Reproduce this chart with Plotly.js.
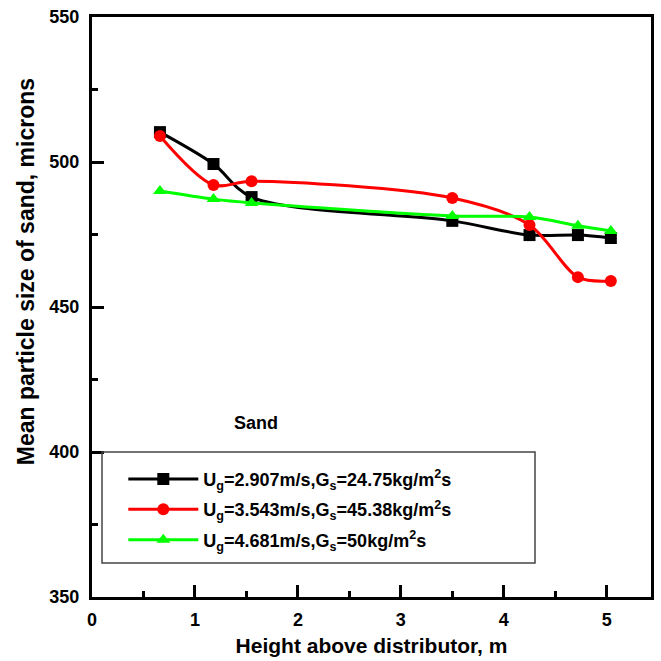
<!DOCTYPE html>
<html>
<head>
<meta charset="utf-8">
<script src="https://cdn.plot.ly/plotly-3.0.1.min.js"></script>
<style>html,body{margin:0;padding:0;background:#fff;}#chart{width:661px;height:661px;}</style>
</head>
<body>
<div id="chart"></div>
<script>
// Data
const heights = [0.66, 1.18, 1.55, 3.50, 4.25, 4.72, 5.04];
const sizeUg2907 = [510.3, 499.3, 487.9, 479.7, 474.8, 474.8, 473.8];
const sizeUg3543 = [509.0, 492.1, 493.4, 487.6, 478.3, 460.3, 459.0];
const sizeUg4681 = [490.0, 487.2, 485.9, 481.4, 481.0, 478.0, 476.2];
const seriesNames = [
  'U<sub>g</sub>=2.907m/s,G<sub>s</sub>=24.75kg/m<sup>2</sup>s',
  'U<sub>g</sub>=3.543m/s,G<sub>s</sub>=45.38kg/m<sup>2</sup>s',
  'U<sub>g</sub>=4.681m/s,G<sub>s</sub>=50kg/m<sup>2</sup>s'
];
const xTicks = [0, 1, 2, 3, 4, 5];
const yTicks = [350, 400, 450, 500, 550];

const FONT = 'Liberation Sans, Arial, Helvetica, sans-serif';

function mk(y, name, color, symbol, grp) {
  return {
    x: heights, y: y, name: name, type: 'scatter', mode: 'lines+markers',
    legendgroup: grp,
    line: {color: color, width: 3, shape: 'spline', smoothing: 0.9},
    marker: {color: color, symbol: symbol, size: 12}
  };
}

const data = [
  mk(sizeUg2907, seriesNames[0], '#000000', 'square', 'a'),
  mk(sizeUg3543, seriesNames[1], '#ff0000', 'circle', 'b'),
  mk(sizeUg4681, seriesNames[2], '#00ff00', 'triangle-up', 'c')
];

const axisCommon = {
  showline: true, linewidth: 3, linecolor: '#000', mirror: true,
  ticks: 'inside', ticklen: 12, tickwidth: 3, tickcolor: '#000',
  showgrid: false, zeroline: false,
  tickfont: {family: FONT, size: 18, color: '#000', weight: 'bold'}
};

const layout = {
  width: 661, height: 661,
  margin: {l: 92, r: 10, t: 17, b: 64},
  paper_bgcolor: '#fff', plot_bgcolor: '#fff',
  font: {family: FONT, color: '#000'},
  xaxis: Object.assign({}, axisCommon, {
    range: [0, 5.43], tickvals: xTicks, ticktext: xTicks.map(String),
    ticklabelstandoff: 4,
    minor: {ticks: 'inside', ticklen: 6, tickwidth: 3, dtick: 0.5, tick0: 0, tickcolor: '#000'},
    title: {text: 'Height above distributor, m', font: {family: FONT, size: 21, weight: 'bold'}, standoff: 10}
  }),
  yaxis: Object.assign({}, axisCommon, {
    range: [350, 550], tickvals: yTicks, ticktext: yTicks.map(String),
    ticklabelstandoff: 6,
    minor: {ticks: 'inside', ticklen: 6, tickwidth: 3, dtick: 25, tick0: 350, tickcolor: '#000'}
  }),
  legend: {
    x: 0.056, y: 0.235, xanchor: 'left', yanchor: 'top',
    bgcolor: 'rgba(0,0,0,0)', borderwidth: 0,
    itemwidth: 70, traceorder: 'grouped', tracegroupgap: 4,
    font: {family: FONT, size: 18, weight: 'bold', color: '#000'}
  },
  shapes: [{
    type: 'rect', xref: 'paper', yref: 'paper',
    x0: 0.0179, x1: 0.7925, y0: 0.0586, y1: 0.25,
    line: {color: '#444', width: 1.5}, fillcolor: 'rgba(0,0,0,0)'
  }],
  annotations: [{
    xref: 'paper', yref: 'paper', x: 0.293, y: 0.30, xanchor: 'center', yanchor: 'middle',
    text: 'Sand', showarrow: false,
    font: {family: FONT, size: 18, weight: 'bold', color: '#000'}
  }, {
    xref: 'paper', yref: 'paper', x: -0.118, y: 0.56, xanchor: 'center', yanchor: 'middle',
    text: 'Mean particle size of sand, microns', textangle: -90, showarrow: false,
    font: {family: FONT, size: 23, weight: 'bold', color: '#000'}
  }],
  showlegend: true
};

Plotly.newPlot('chart', data, layout, {displayModeBar: false, staticPlot: true});
</script>
</body>
</html>
